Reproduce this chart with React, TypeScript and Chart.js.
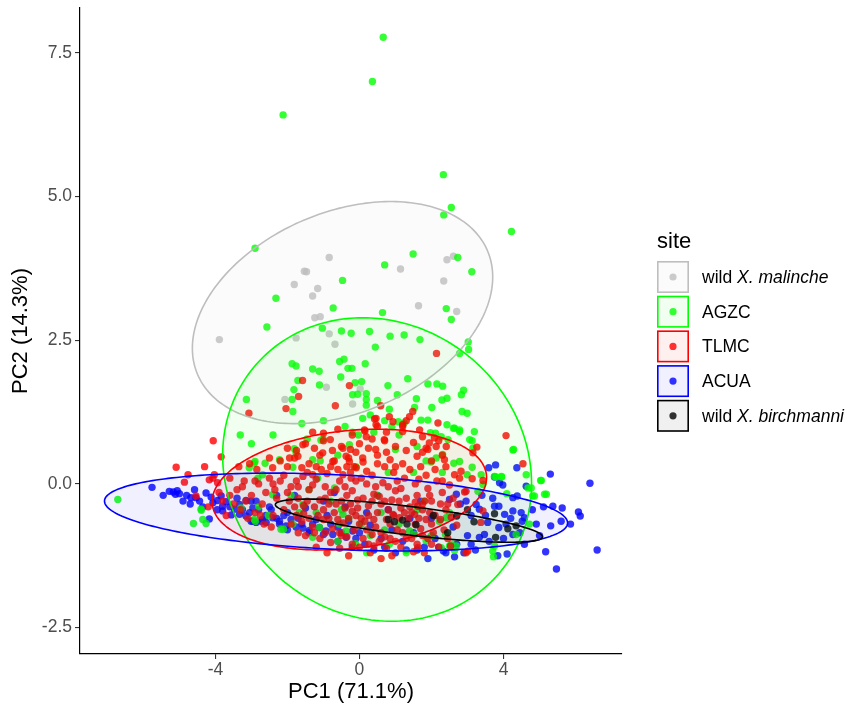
import React, { useEffect, useRef } from "react";
import { Chart, registerables } from "chart.js";
Chart.register(...registerables);

// ---- axis settings ----
const xTicks = [-4, 0, 4];
const yTicks = [-2.5, 0, 2.5, 5, 7.5];
const xLimits = [-7.76, 7.29];
const yLimits = [-2.96, 8.28];
const xTitle = "PC1 (71.1%)";
const yTitle = "PC2 (14.3%)";
const legendTitle = "site";

// ---- groups (legend order) ----
const groupNames = ["wild X. malinche", "AGZC", "TLMC", "ACUA", "wild X. birchmanni"];
const groupColors = ["190,190,190", "0,255,0", "255,0,0", "0,0,255", "0,0,0"];

// ---- PCA scores per group ----
const malinche = [
  [-3.89, 2.51], [-0.84, 3.94], [-1.53, 3.7], [-1.47, 3.69], [-1.81, 3.47], [-1.16, 3.4], [-1.3, 3.27],
  [1.14, 3.74], [2.43, 3.9], [2.61, 3.96], [2.34, 3.53], [1.64, 3.1], [2.7, 3.0], [-1.24, 2.89],
  [-1.09, 2.91], [-0.84, 2.61], [-0.68, 2.43], [-1.76, 2.54], [-0.92, 1.68], [0.02, 1.65], [-2.07, 1.47],
  [-0.19, 1.39],
];

const agzc = [
  [0.66, 7.77], [0.36, 7.0], [-2.12, 6.42], [2.33, 5.38], [2.55, 4.81], [2.34, 4.68], [4.22, 4.39],
  [-2.9, 4.1], [1.49, 4.0], [0.7, 3.81], [2.73, 3.94], [3.12, 3.69], [-0.47, 3.54], [-2.32, 3.23],
  [-0.73, 3.06], [0.64, 2.98], [2.41, 3.05], [2.55, 2.86], [-2.57, 2.73], [-1.03, 2.71], [-0.5, 2.66],
  [-0.23, 2.62], [0.28, 2.65], [0.85, 2.57], [1.24, 2.59], [1.68, 2.51], [0.44, 2.38], [3.02, 2.47],
  [3.03, 2.34], [2.78, 2.27], [-1.87, 2.09], [-1.76, 2.05], [-0.55, 2.13], [-0.43, 2.17], [0.16, 2.09],
  [-1.3, 2.0], [-1.12, 1.96], [-0.32, 2.01], [-0.21, 2.01], [-0.52, 1.86], [1.34, 1.83], [-1.71, 1.8],
  [-1.11, 1.72], [-0.12, 1.76], [0.06, 1.78], [0.79, 1.71], [1.9, 1.74], [2.15, 1.74], [2.31, 1.7],
  [-1.82, 1.64], [-0.19, 1.55], [-0.05, 1.56], [0.19, 1.57], [2.89, 1.63], [2.83, 1.55], [-3.14, 1.47],
  [-1.87, 1.47], [0.19, 1.47], [0.19, 1.37], [0.5, 1.45], [1.05, 1.55], [1.58, 1.48], [2.29, 1.46],
  [2.43, 1.49], [2.01, 1.33], [0.83, 1.3], [2.85, 1.26], [2.99, 1.23], [-1.85, 1.26],
  [-3.31, 0.85], [-3.0, 0.7], [-1.81, 0.61], [-1.76, 0.54], [-1.3, 0.42], [-1.07, 0.76], [-1.01, 0.78],
  [-1.45, 0.78], [-0.28, 0.68], [-0.03, 0.85], [0.09, 1.14], [-2.9, 0.39], [-3.06, 0.28], [-2.82, 0.1],
  [-2.69, 0.16], [-2.22, 0.42], [-2.41, -0.19], [-4.39, -0.46], [-4.61, -0.69], [-4.35, -0.62],
  [-4.26, -0.69], [-3.29, -0.42], [-2.8, -0.4], [-1.3, -0.93], [-2.11, -0.79], [-2.89, -0.65],
  [-1.67, -0.5], [-1.57, -0.36], [-0.37, -0.82], [-0.46, -0.53], [0.05, -0.7], [-0.11, -1.04],
  [-0.69, -0.07], [-1.16, 0.1], [-6.71, -0.27], [-4.4, -0.44], [-2.92, -0.62], [-2.18, -0.79],
  [-2.92, 0.36], [-2.62, 0.36], [-1.09, 0.4], [-1.85, 0.29], [-2.53, -0.55], [-1.85, -0.7],
  [-1.11, -0.76], [-0.56, -0.7],
  [1.53, 1.33], [1.71, 1.11], [1.9, 1.11], [1.08, 1.08], [1.24, 1.06], [2.43, 1.03], [2.61, 0.97],
  [2.78, 0.91], [3.19, 0.91], [3.06, 0.77], [3.15, 0.62], [2.27, 0.82], [2.46, 0.77], [1.97, 0.89],
  [2.11, 0.88], [4.28, 0.6], [2.31, 0.51], [2.78, 0.39], [2.62, 0.36], [2.99, 0.16], [3.13, 0.29],
  [3.38, 0.16], [3.75, 0.13], [3.94, 0.13], [5.05, 0.06], [4.68, -0.07], [5.14, -0.18], [4.81, -0.21],
  [2.13, 0.45], [1.99, 0.38], [3.43, -0.01], [3.29, -0.13], [4.09, -0.17], [4.72, -0.7], [1.39, -0.82],
  [1.53, -0.88], [1.85, -0.99], [0.83, -1.05], [2.55, -1.05], [2.69, -1.08], [2.39, -0.88], [3.7, -1.17],
  [3.75, -1.08], [2.22, -0.65], [2.41, -0.59], [3.72, -1.27], [2.5, -1.08], [2.64, -1.16], [2.27, -1.11],
  [4.26, 0.59], [4.63, 0.16], [4.77, -0.07], [4.86, -0.21], [5.03, 0.06], [5.19, -0.18], [3.95, 0.12],
  [3.8, 0.12], [4.35, -0.88], [3.13, 0.75], [2.78, 0.94], [2.64, 0.97],
  [-0.8, -0.3], [-0.3, -0.6], [0.3, -0.9], [0.6, -0.5], [1.1, -0.7], [-1.4, -0.1], [0.8, 0.2],
  [-0.1, 0.3], [1.5, 0.2], [1.0, 0.6], [0.4, 0.9], [-0.6, 0.5], [1.8, -0.3], [2.0, -0.9], [0.2, -1.2],
  [-0.6, -1.0], [2.5, -0.5], [1.3, -1.2], [0.5, -0.2], [-1.9, -0.2],
  [-0.4, 1.0], [0.3, 1.2], [0.7, 1.1], [-1.6, 1.05], [-2.4, 0.85], [1.1, 0.85], [1.6, 0.65], [2.3, 0.2],
  [-0.2, 0.9], [0.9, 1.0], [-1.0, 1.1], [1.85, 0.4], [-0.5, -0.45], [0.7, -0.8], [1.6, -0.45], [-1.2, -0.5],
];

const tlmc = [
  [-4.06, 0.75], [-3.84, 0.47], [-5.09, 0.29], [-4.3, 0.3], [-4.76, 0.16], [-3.07, 1.23], [-2.04, 1.31],
  [-1.69, 1.52], [-0.67, 1.36], [-0.28, 1.71], [-1.58, 1.8], [0.59, 1.36], [1.48, 1.26], [1.39, 1.17],
  [0.83, 1.17], [0.46, 1.14], [2.14, 2.27], [-4.86, 0.03], [-4.17, 0.07], [-4.03, 0.16], [-4.54, -0.21],
  [-4.07, 0.1], [-3.94, 0.02],
  [1.3, 1.1], [1.2, 1.03], [2.18, 1.06], [0.93, 1.08], [0.42, 1.13], [0.46, 1.03], [0.14, 0.94],
  [0.19, 0.82], [0.69, 0.77], [1.2, 0.91], [1.67, 0.94], [4.07, 0.84], [4.54, 0.35], [2.08, 0.8],
  [2.13, 0.65], [2.41, 0.65], [1.94, 0.71], [1.85, 0.62], [3.26, 0.64], [3.15, 0.54], [2.36, 0.42],
  [2.64, 0.16], [2.82, 0.22], [2.78, 0.1], [2.96, -0.13], [2.73, -0.36], [1.62, -0.39], [1.81, -0.3],
  [3.01, -1.17], [0.93, -0.53], [1.11, -0.59], [1.53, -0.53], [2.96, -1.2], [2.53, -1.08], [1.62, -1.11],
  [2.92, -0.14], [3.13, 0.09], [3.43, 0.06], [3.37, -0.67], [3.43, -0.47],
  [-0.81, 0.77], [-0.46, 0.62], [-0.37, 0.48], [-1.57, 0.68], [-1.02, 0.54], [-0.74, 0.39], [-1.94, 0.45],
  [-1.71, 0.48], [-2.5, 0.45], [-2.41, 0.28], [-1.06, 0.25], [-1.3, 0.16], [-1.57, 0.13], [-0.28, 0.39],
  [-0.09, 0.28], [0.09, 0.45], [-0.46, 0.16], [-0.23, 0.1],
  [-3.6, 0.1], [-3.4, -0.1], [-3.2, 0.05], [-3.0, -0.2], [-2.8, 0.0], [-3.5, -0.35], [-3.3, -0.45],
  [-3.1, -0.6], [-2.9, -0.5], [-2.7, -0.35], [-2.6, -0.15], [-2.5, 0.1], [-3.8, -0.3], [-3.9, -0.15],
  [-4.2, -0.4], [-3.7, -0.55], [-2.65, -0.7], [-2.4, -0.55], [-2.3, -0.25], [-2.2, 0.05], [-3.35, 0.3],
  [-3.05, 0.35], [-2.85, 0.25],
  [-0.6, 0.95], [0.15, 0.92], [0.5, 1.0], [1.2, 1.0], [-1.3, 0.9],
  [-1.5, 0.7], [-1.0, 0.75], [-0.5, 0.65], [0.0, 0.7], [0.35, 0.78], [0.7, 0.75], [1.0, 0.65], [1.5, 0.72],
  [1.9, 0.6], [2.2, 0.75], [-2.0, 0.62],
  [-2.2, 0.4], [-1.8, 0.45], [-1.4, 0.35], [-1.1, 0.5], [-0.7, 0.4], [-0.3, 0.45], [0.1, 0.38], [0.5, 0.5],
  [0.85, 0.42], [1.2, 0.35], [1.6, 0.48], [2.0, 0.4], [2.4, 0.3], [-0.1, 0.55],
  [-2.1, 0.15], [-1.75, 0.05], [-1.45, 0.2], [-1.2, 0.08], [-0.9, 0.18], [-0.55, 0.05], [-0.25, 0.2],
  [0.05, 0.1], [0.35, 0.15], [0.65, 0.02], [0.95, 0.2], [1.25, 0.1], [1.55, 0.0], [1.85, 0.15],
  [2.15, 0.05], [2.5, -0.02], [-0.4, -0.05], [0.8, -0.05], [1.9, -0.08],
  [-2.0, -0.15], [-1.7, -0.25], [-1.4, -0.1], [-1.1, -0.28], [-0.8, -0.15], [-0.5, -0.3], [-0.2, -0.12],
  [0.1, -0.25], [0.4, -0.18], [0.7, -0.3], [1.0, -0.12], [1.3, -0.25], [1.6, -0.2], [2.0, -0.3],
  [2.3, -0.15], [2.6, -0.25], [-1.25, -0.4], [0.25, -0.38], [1.15, -0.42],
  [-2.1, -0.45], [-1.8, -0.4], [-1.55, -0.52], [-1.0, -0.45], [-0.7, -0.5], [-0.4, -0.42], [-0.1, -0.55],
  [0.5, -0.5], [0.8, -0.45], [1.45, -0.5], [1.75, -0.45], [2.1, -0.55], [2.4, -0.45], [-0.25, -0.35],
  [0.6, -0.35],
  [-1.9, -0.7], [-1.6, -0.65], [-1.3, -0.75], [-1.0, -0.62], [-0.75, -0.78], [-0.45, -0.68], [-0.15, -0.8],
  [0.15, -0.65], [0.45, -0.75], [0.75, -0.62], [1.05, -0.8], [1.35, -0.6], [1.7, -0.78], [2.0, -0.7],
  [2.35, -0.8], [2.7, -0.72], [-0.3, -0.6], [0.35, -0.88],
  [-1.5, -0.9], [-1.1, -0.95], [-0.8, -1.02], [-0.5, -0.9], [-0.2, -1.05], [0.1, -0.95], [0.4, -1.08],
  [0.7, -0.92], [1.0, -1.0], [1.3, -0.95], [1.6, -1.05], [1.9, -0.95], [2.2, -1.1], [-0.95, -0.85],
  [-0.9, -1.2], [-0.3, -1.25], [0.3, -1.2], [0.9, -1.25], [1.5, -1.18], [0.6, -1.3],
  [-1.45, -0.3], [-1.15, -0.55], [-0.85, -0.35], [-0.6, -0.62], [-0.35, -0.2], [-0.05, -0.42],
  [0.25, -0.55], [0.55, -0.22], [0.85, -0.7], [1.1, -0.3], [1.4, -0.4], [1.65, -0.6], [1.95, -0.5],
  [-0.55, -0.85], [0.0, -0.7], [0.6, -0.85], [1.2, -0.85], [-1.2, 0.3], [-0.15, 0.3], [0.7, 0.3],
  [1.4, 0.25], [-0.95, -0.05], [0.2, 0.0], [1.05, 0.05], [1.75, -0.35], [2.25, -0.35], [-1.7, -0.05],
  [-2.35, -0.1], [0.45, 0.6], [-0.8, 0.3],
  [-1.0, 0.88], [-0.2, 0.85], [0.75, 0.9], [1.75, 0.82],
  [-1.75, 0.58], [-1.25, 0.62], [-0.75, 0.58], [-0.25, 0.6], [0.25, 0.62], [0.75, 0.55], [1.3, 0.58],
  [1.75, 0.55], [2.3, 0.5],
  [-2.0, 0.3], [-1.6, 0.28], [-0.6, 0.25], [-0.35, 0.3], [0.2, 0.22], [0.5, 0.35], [1.0, 0.3], [1.7, 0.3],
  [2.1, 0.25],
  [-2.4, 0.0], [-1.9, -0.05], [-1.3, -0.02], [-0.65, -0.1], [-0.1, 0.05], [0.45, -0.05], [1.15, -0.08],
  [1.65, 0.08], [2.3, 0.05],
  [-1.95, -0.3], [-1.55, -0.38], [-0.95, -0.25], [-0.65, -0.35], [-0.05, -0.28], [0.35, -0.3], [0.9, -0.28],
  [1.25, -0.5], [1.55, -0.32], [1.95, -0.2], [2.45, -0.35],
  [-1.75, -0.55], [-1.4, -0.6], [-0.85, -0.6], [-0.2, -0.48], [0.05, -0.6], [0.4, -0.62], [0.95, -0.55],
  [1.55, -0.7], [1.85, -0.62], [2.25, -0.62], [2.55, -0.58],
  [-1.7, -0.85], [-1.25, -0.85], [-0.35, -0.92], [0.2, -0.8], [0.55, -1.0], [0.85, -0.95], [1.45, -0.95],
  [1.75, -0.9], [2.05, -0.85], [2.45, -0.95],
  [-1.2, -1.1], [-0.55, -1.12], [0.0, -1.1], [0.25, -1.05], [0.75, -1.12], [1.15, -1.1], [1.8, -1.2],
  [2.0, -1.05],
  [-3.15, -0.3], [-2.75, -0.55], [-3.6, -0.2], [-2.45, -0.75], [-2.9, 0.05], [-3.25, -0.05],
];

const acua = [
  [-5.76, -0.06], [-5.28, -0.13], [-5.17, -0.14], [-5.06, -0.12], [-5.0, -0.17], [-5.11, -0.18],
  [-4.8, -0.2], [-4.68, -0.24], [-4.54, -0.24], [-4.44, -0.3], [-4.58, -0.1], [-4.26, -0.16],
  [-4.12, -0.23], [-4.07, -0.33], [-3.94, -0.29], [-3.84, -0.21], [-3.8, -0.39], [-3.7, -0.31],
  [-4.17, -0.61], [-3.8, -0.47], [-3.56, -0.54], [-3.47, -0.44], [-3.33, -0.36], [-3.15, -0.29],
  [-3.01, -0.3], [-2.87, -0.3], [-2.96, -0.42], [-3.33, -0.53], [-3.15, -0.56], [-2.96, -0.65],
  [-2.69, -0.62], [-2.59, -0.67], [-2.41, -0.59], [-2.22, -0.65], [-3.01, -0.65], [-2.87, -0.67],
  [-2.73, -0.65], [-2.22, -0.7], [-2.04, -0.73], [-1.76, -0.75], [-1.57, -0.77], [-1.39, -0.81],
  [-1.11, -0.76], [-0.93, -0.82], [-0.74, -0.88], [-0.6, -1.0], [-0.37, -0.93], [-0.19, -0.82],
  [5.3, 0.17], [6.4, 0.01], [6.6, -1.15], [5.47, -1.48], [5.17, -1.18], [6.08, -0.49], [6.13, -0.56],
  [5.86, -0.7], [5.63, -0.42], [5.37, -0.39], [5.11, -0.4], [5.31, -0.73], [4.91, -0.7], [5.6, -0.65],
  [4.49, -0.5], [4.58, -0.59], [4.52, -0.65], [4.26, -0.24], [4.38, -0.21], [4.26, -0.47], [4.37, 0.28],
  [4.63, -0.04], [3.59, 0.28], [3.78, 0.33], [3.75, 0.12], [3.89, 0.02], [3.98, -0.02], [3.75, -0.39],
  [3.87, -0.39], [4.03, -0.53], [4.07, -0.7], [3.87, -0.76], [3.56, -0.67], [3.47, -0.88], [3.33, -0.93],
  [4.1, -1.22], [3.84, -1.25], [3.22, -1.15], [2.64, -1.27], [2.33, -1.17], [4.58, -1.05], [3.24, -0.36],
  [3.33, -0.44], [2.96, -0.3], [2.69, -0.18], [2.5, -0.27], [4.26, -0.88],
  [-2.0, -0.5], [-1.7, -0.6], [-1.5, -0.42], [-1.2, -0.62], [-0.9, -0.55], [-0.6, -0.75], [-0.3, -0.65],
  [0.0, -0.85], [0.3, -0.72], [0.6, -0.95], [0.9, -0.8], [1.2, -1.0], [1.5, -0.85], [1.8, -1.1],
  [2.1, -0.95], [2.4, -1.2], [2.7, -1.05], [3.0, -0.9], [-1.0, -0.3], [-0.4, -0.4], [0.2, -0.5],
  [0.8, -0.45], [1.4, -0.6], [2.0, -0.6], [2.6, -0.75], [-2.5, -0.4], [-2.3, -0.2], [-1.8, -0.2],
  [0.4, -1.15], [1.0, -1.2], [-0.2, -1.1], [3.1, -0.55], [3.4, -0.2], [2.8, -0.35], [1.7, -0.3],
  [0.5, -0.2], [-0.7, -0.15], [-1.4, -0.85], [-2.0, -0.8], [1.9, -1.3],
  [-3.6, -0.4], [-3.4, -0.25], [-3.25, -0.45], [-3.05, -0.5], [-2.8, -0.45], [-2.6, -0.55], [-2.45, -0.45],
  [-2.3, -0.6], [-2.1, -0.55], [-1.9, -0.62], [-1.6, -0.7], [-1.3, -0.7], [-1.0, -0.88], [-0.8, -0.7],
  [-0.5, -0.85], [-0.1, -0.95], [0.15, -1.05], [0.7, -1.1], [1.3, -1.15], [1.6, -1.15], [2.2, -1.1],
  [2.9, -1.2], [3.1, -1.05], [3.6, -1.0], [4.0, -0.95], [3.5, -0.55], [3.7, -0.25], [4.2, -0.6],
  [4.8, -0.45], [4.45, -0.85], [5.0, -0.9], [-4.9, -0.3], [-4.35, -0.4], [-3.95, -0.45], [-5.45, -0.2],
  [-4.7, -0.35],
];

const birchmanni = [
  [0.8, -0.62], [0.97, -0.66], [1.2, -0.63], [1.32, -0.7], [1.57, -0.71], [2.05, -0.55], [2.7, -0.56],
  [3.18, -0.66], [3.75, -0.52], [4.12, -0.78], [4.35, -0.73], [3.78, -0.93], [2.45, -0.85], [3.0, -0.45],
];

const groupPoints = [malinche, agzc, tlmc, acua, birchmanni];
const drawOrder = [4, 3, 2, 5, 1]; // lower = drawn on top

// ---- 95% ellipses: centre and conjugate semi-axes (data units) ----
const ellipseCenter = [[-0.47, 2.98], [0.49, 0.25], [-0.28, -0.1], [-0.65, -0.49], [1.375, -0.64]];
const ellipseAxisA = [[4.17, 0.62], [4.27, 0.0], [3.81, 0.21], [6.43, -0.19], [3.71, -0.28]];
const ellipseAxisB = [[0.0, 1.83], [-0.4, 2.64], [0.0, 1.03], [0.0, 0.65], [0.0, 0.25]];

const FONT = "'Liberation Sans', Arial, sans-serif";

const ellipsePlugin = {
  id: "ellipses",
  afterDatasetsDraw(chart: any) {
    const { ctx, chartArea, scales } = chart;
    const xs = scales.x;
    const ys = scales.y;
    ctx.save();
    ctx.beginPath();
    ctx.rect(chartArea.left, chartArea.top, chartArea.right - chartArea.left, chartArea.bottom - chartArea.top);
    ctx.clip();
    for (let i = 0; i < ellipseCenter.length; i++) {
      const [cx, cy] = ellipseCenter[i];
      const [ax, ay] = ellipseAxisA[i];
      const [bx, by] = ellipseAxisB[i];
      ctx.beginPath();
      const n = 240;
      for (let k = 0; k <= n; k++) {
        const t = (2 * Math.PI * k) / n;
        const vx = cx + ax * Math.cos(t) + bx * Math.sin(t);
        const vy = cy + ay * Math.cos(t) + by * Math.sin(t);
        const px = xs.getPixelForValue(vx);
        const py = ys.getPixelForValue(vy);
        if (k === 0) ctx.moveTo(px, py);
        else ctx.lineTo(px, py);
      }
      ctx.closePath();
      ctx.fillStyle = `rgba(${groupColors[i]},0.06)`;
      ctx.fill();
      ctx.strokeStyle = `rgb(${groupColors[i]})`;
      ctx.lineWidth = 1.6;
      ctx.stroke();
    }
    ctx.restore();
  },
};

const legendParts: [string, boolean][][] = [
  [["wild ", false], ["X. malinche", true]],
  [["AGZC", false]],
  [["TLMC", false]],
  [["ACUA", false]],
  [["wild ", false], ["X. birchmanni", true]],
];

const legendPlugin = {
  id: "customLegend",
  afterDraw(chart: any) {
    const ctx = chart.ctx;
    ctx.save();
    const left = 657;
    const top = 261;
    const box = 32;
    const step = 34.7;
    ctx.fillStyle = "#000";
    ctx.font = `22px ${FONT}`;
    ctx.textBaseline = "alphabetic";
    ctx.textAlign = "left";
    ctx.fillText(legendTitle, left, 248);
    for (let i = 0; i < groupNames.length; i++) {
      const y0 = top + i * step;
      ctx.fillStyle = "#fff";
      ctx.fillRect(left, y0, box, box);
      ctx.fillStyle = `rgba(${groupColors[i]},0.06)`;
      ctx.fillRect(left, y0, box, box);
      ctx.strokeStyle = `rgb(${groupColors[i]})`;
      ctx.lineWidth = 1.6;
      ctx.strokeRect(left + 0.8, y0 + 0.8, box - 1.6, box - 1.6);
      ctx.beginPath();
      ctx.arc(left + box / 2, y0 + box / 2, 3.6, 0, Math.PI * 2);
      ctx.fillStyle = `rgba(${groupColors[i]},0.8)`;
      ctx.fill();
      let tx = 702;
      ctx.fillStyle = "#000";
      ctx.textBaseline = "middle";
      for (const [txt, it] of legendParts[i]) {
        ctx.font = `${it ? "italic " : ""}17.5px ${FONT}`;
        ctx.fillText(txt, tx, y0 + box / 2 + 1);
        tx += ctx.measureText(txt).width;
      }
    }
    ctx.restore();
  },
};

export default function App() {
  const ref = useRef<HTMLCanvasElement | null>(null);
  useEffect(() => {
    document.body.style.margin = "0";
    const canvas = ref.current;
    if (!canvas) return;
    const datasets = groupNames.map((name, i) => ({
      label: name,
      data: groupPoints[i].map(([x, y]) => ({ x, y })),
      backgroundColor: `rgba(${groupColors[i]},0.8)`,
      borderWidth: 0,
      pointRadius: 3.7,
      pointHoverRadius: 3.7,
      order: drawOrder[i],
    }));
    const chart = new Chart(canvas, {
      type: "scatter",
      data: { datasets },
      options: {
        animation: false,
        responsive: false,
        devicePixelRatio: 1,
        layout: { padding: { left: 0, right: 226, top: 8, bottom: 0 } },
        plugins: { legend: { display: false }, tooltip: { enabled: false } },
        scales: {
          x: {
            type: "linear",
            min: xLimits[0],
            max: xLimits[1],
            afterBuildTicks: (s: any) => {
              s.ticks = xTicks.map((v) => ({ value: v }));
            },
            afterFit: (s: any) => {
              s.height = 54;
              s.paddingLeft = 0;
              s.paddingRight = 0;
            },
            grid: { display: true, drawOnChartArea: false, drawTicks: true, tickLength: 5, color: "#333", lineWidth: 1.1 },
            border: { display: true, color: "#000", width: 1.2 },
            ticks: {
              color: "#4d4d4d",
              font: { size: 17.5, family: FONT },
              padding: 1,
              maxRotation: 0,
              callback: (v: any) => String(v),
            },
            title: { display: true, text: xTitle, color: "#000", font: { size: 22, family: FONT }, padding: { top: 0, bottom: 3 } },
          },
          y: {
            type: "linear",
            min: yLimits[0],
            max: yLimits[1],
            afterBuildTicks: (s: any) => {
              s.ticks = yTicks.map((v) => ({ value: v }));
            },
            afterFit: (s: any) => {
              s.width = 80;
              s.paddingTop = 0;
              s.paddingBottom = 0;
            },
            grid: { display: true, drawOnChartArea: false, drawTicks: true, tickLength: 5, color: "#333", lineWidth: 1.1 },
            border: { display: true, color: "#000", width: 1.2 },
            ticks: {
              color: "#4d4d4d",
              font: { size: 17.5, family: FONT },
              padding: 3,
              callback: (v: any) => Number(v).toFixed(1),
            },
            title: { display: true, text: yTitle, color: "#000", font: { size: 22, family: FONT }, padding: { top: 8, bottom: 4 } },
          },
        },
      },
      plugins: [ellipsePlugin, legendPlugin],
    });
    return () => chart.destroy();
  }, []);
  return (
    <div style={{ width: 848, height: 708 }}>
      <canvas ref={ref} width={848} height={708} style={{ display: "block" }} />
    </div>
  );
}
